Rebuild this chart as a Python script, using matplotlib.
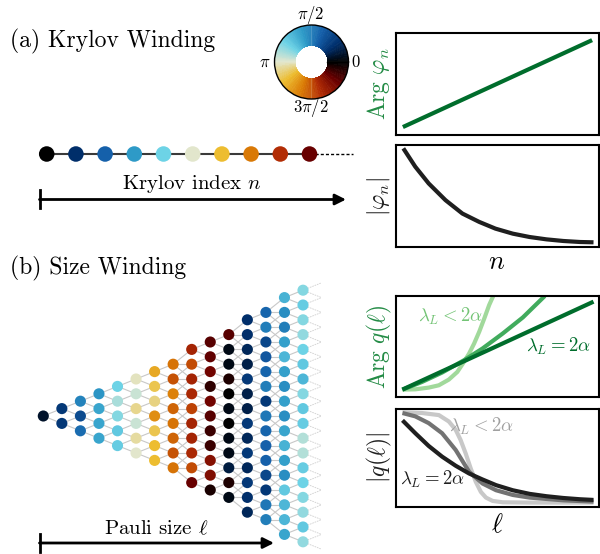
import numpy as np
import matplotlib
matplotlib.use('Agg')
import matplotlib.pyplot as plt
from matplotlib.colors import LinearSegmentedColormap
from matplotlib.collections import LineCollection

plt.rcParams['font.family'] = 'serif'
plt.rcParams['font.serif'] = ['cmr10']
plt.rcParams['mathtext.fontset'] = 'cm'
plt.rcParams['axes.formatter.use_mathtext'] = True

# cyclic phase colours (phase in units of 2*pi)
wheel_colors = ['#000000', '#002f6c', '#1560aa', '#2e9bc8', '#6dd3e6', '#e2e7cf',
                '#edbd30', '#da7b06', '#b22d05', '#6a0000', '#000000']

# (a) Krylov chain phases
chain_phase = [0.0, 0.1, 0.2, 0.3, 0.4, 0.5, 0.6, 0.7, 0.8, 0.9]

# (b) Pauli-size lattice phases, one list per column (top to bottom)
lattice_phase = [
    [0.04],
    [0.12, 0.12],
    [0.26, 0.16, 0.22],
    [0.29, 0.32, 0.32, 0.32],
    [0.40, 0.45, 0.42, 0.38, 0.39],
    [0.51, 0.48, 0.54, 0.48, 0.53, 0.50],
    [0.63, 0.58, 0.55, 0.67, 0.58, 0.60, 0.60],
    [0.71, 0.75, 0.69, 0.73, 0.71, 0.73, 0.75, 0.71],
    [0.82, 0.76, 0.82, 0.81, 0.77, 0.82, 0.82, 0.81, 0.76, 0.90],
    [0.915, 0.91, 0.89, 0.955, 0.89, 0.915, 0.945, 0.945, 0.86, 0.87, 0.975],
    [0.915, 0.02, 0.02, 0.97, 0.0, 0.02, 0.0, 0.02, 0.02, 0.06, 0.97, 0.02],
    [0.10, 0.10, 0.085, 0.07, 0.12, 0.07, 0.07, 0.12, 0.085, 0.12, 0.085, 0.12, 0.10, 0.085],
    [0.21, 0.25, 0.15, 0.18, 0.21, 0.25, 0.12, 0.24, 0.21, 0.20, 0.20, 0.15, 0.12, 0.24, 0.25],
    [0.34, 0.28, 0.25, 0.31, 0.35, 0.31, 0.28, 0.31, 0.28, 0.32, 0.34, 0.31, 0.28, 0.38, 0.35,
     0.35, 0.32],
    [0.42, 0.39, 0.42, 0.43, 0.40, 0.38, 0.35, 0.42, 0.38, 0.39, 0.46, 0.46, 0.39, 0.40, 0.42,
     0.43, 0.38, 0.43],
]

# schematic curves (axes fractions)
arg_phi_x = [0.034, 0.966]
arg_phi_y = [0.078, 0.930]

abs_phi_x = [0.036, 0.095, 0.161, 0.244, 0.327, 0.410, 0.490, 0.575, 0.658, 0.741, 0.824, 0.907, 0.973]
abs_phi_y = [0.967, 0.787, 0.623, 0.459, 0.328, 0.246, 0.180, 0.131, 0.098, 0.075, 0.059, 0.049, 0.046]

argq_lin_x = [0.031, 0.973]
argq_lin_y = [0.073, 0.944]
argq_mid_x = [0.032, 0.128, 0.227, 0.335, 0.426, 0.526, 0.625, 0.733]
argq_mid_y = [0.073, 0.149, 0.242, 0.364, 0.480, 0.629, 0.788, 1.000]
argq_fast_x = [0.032, 0.095, 0.161, 0.211, 0.260, 0.302, 0.335, 0.360, 0.385, 0.410, 0.435,
               0.459, 0.479]
argq_fast_y = [0.073, 0.076, 0.093, 0.116, 0.172, 0.248, 0.348, 0.430, 0.530, 0.646, 0.778,
               0.911, 1.000]

absq_light_x = [0.032, 0.128, 0.211, 0.260, 0.294, 0.318, 0.343, 0.368, 0.393, 0.418, 0.443,
                0.476, 0.526, 0.658, 0.973]
absq_light_y = [0.966, 0.959, 0.938, 0.873, 0.788, 0.685, 0.548, 0.394, 0.257, 0.154, 0.096,
                0.062, 0.048, 0.045, 0.045]
absq_mid_x = [0.032, 0.095, 0.161, 0.227, 0.294, 0.360, 0.426, 0.493, 0.575, 0.658, 0.824, 0.973]
absq_mid_y = [0.959, 0.925, 0.856, 0.753, 0.582, 0.360, 0.240, 0.171, 0.123, 0.096, 0.068, 0.055]
absq_exp_x = [0.032, 0.095, 0.161, 0.227, 0.294, 0.360, 0.426, 0.493, 0.575, 0.658, 0.741,
              0.824, 0.907, 0.973]
absq_exp_y = [0.884, 0.753, 0.623, 0.514, 0.421, 0.342, 0.281, 0.223, 0.171, 0.134, 0.110,
              0.092, 0.079, 0.072]

cmap = LinearSegmentedColormap.from_list('wind', list(zip(np.linspace(0, 1, len(wheel_colors)), wheel_colors)))

fig = plt.figure(figsize=(6, 5.54), dpi=100)
bg = fig.add_axes([0, 0, 1, 1])
bg.set_xlim(0, 600)
bg.set_ylim(554, 0)
bg.axis('off')

# ---- (a) chain ----
chain_x = 46.7 + 29.2 * np.arange(len(chain_phase))
chain_y = np.full(len(chain_phase), 154.0)
bg.plot(chain_x, chain_y, color='#3a3a3a', lw=1.5, zorder=1)
bg.plot([chain_x[-1], 353], [154, 154], color='k', lw=1, ls=(0, (2.2, 1.5)), zorder=1)
bg.scatter(chain_x, chain_y, c=chain_phase, cmap=cmap, vmin=0, vmax=1, s=125,
           linewidths=0, zorder=3)

bg.text(10, 41, '(a) Krylov Winding', fontsize=17, ha='left', va='center')
bg.text(192, 184, r'Krylov index $n$', fontsize=15, ha='center', va='center')
bg.plot([40, 40], [190, 208], 'k', lw=2)
bg.annotate('', xy=(346, 199.5), xytext=(39.5, 199.5),
            arrowprops=dict(arrowstyle='-|>', lw=2, color='k', mutation_scale=16,
                            shrinkA=0, shrinkB=0))

# ---- (b) lattice ----
bg.text(10, 268, '(b) Size Winding', fontsize=17, ha='left', va='center')
col_dx, row_dy, x0, yc = 18.55, 14.8, 43.3, 416.0
pts = []
offs_prev = None
segs = []
for k, col in enumerate(lattice_phase):
    n = len(col)
    offs = np.arange(n) - (n - 1) / 2.0
    x = x0 + k * col_dx
    if offs_prev is not None:
        for a in offs_prev:
            for b in offs:
                if abs(a - b) <= 1.01:
                    segs.append([(x - col_dx, yc + a * row_dy), (x, yc + b * row_dy)])
    for o, p in zip(offs, col):
        pts.append((x, yc + o * row_dy, p))
    offs_prev = offs
bg.add_collection(LineCollection(segs, colors='#c8c8c8', linewidths=0.8, zorder=1))

# faded continuation beyond the last column
xl = x0 + (len(lattice_phase) - 1) * col_dx
fan = []
for a in offs_prev:
    for d in (-0.5, 0.5):
        fan.append([(xl, yc + a * row_dy), (xl + col_dx, yc + (a + d) * row_dy)])
bg.add_collection(LineCollection(fan, colors='#d0d0d0', linewidths=0.6,
                                 linestyles=(0, (2, 1)), zorder=1))

pts = np.array(pts)
bg.scatter(pts[:, 0], pts[:, 1], c=pts[:, 2], cmap=cmap, vmin=0, vmax=1, s=64,
           linewidths=0, zorder=3)

bg.text(156, 529, r'Pauli size $\ell$', fontsize=15, ha='center', va='center')
bg.plot([40, 40], [534, 552], 'k', lw=2)
bg.annotate('', xy=(274, 543), xytext=(39.5, 543),
            arrowprops=dict(arrowstyle='-|>', lw=2, color='k', mutation_scale=16,
                            shrinkA=0, shrinkB=0))

# ---- colour wheel ----
cx, cy, rad = 311.5, 62.0, 37.0
pax = fig.add_axes([(cx - rad) / 600, 1 - (cy + rad) / 554, 2 * rad / 600, 2 * rad / 554],
                   projection='polar')
th = np.linspace(0, 2 * np.pi, 361)
rr = np.array([0.43, 1.0])
cc = ((th[:-1] + th[1:]) / 2 / (2 * np.pi))[None, :]
pax.pcolormesh(th, rr, cc, cmap=cmap, vmin=0, vmax=1, shading='flat', alpha=0.82)
pax.plot([0, 0], [0.43, 1.0], 'k', lw=1)
pax.set_ylim(0, 1)
pax.set_xticks([])
pax.set_yticks([])
pax.grid(False)
pax.spines['polar'].set_linewidth(1)
for s, (tx, ty) in zip([r'$\pi/2$', r'$\pi$', r'$0$', r'$3\pi/2$'],
                       [(311, 15), (265, 62), (356, 62), (311, 108)]):
    bg.text(tx, ty, s, fontsize=12, ha='center', va='center')

# ---- right panels ----
def px_axes(left, top, right, bottom):
    ax = fig.add_axes([left / 600, 1 - bottom / 554, (right - left) / 600, (bottom - top) / 554])
    ax.set_xlim(0, 1)
    ax.set_ylim(0, 1)
    ax.set_xticks([])
    ax.set_yticks([])
    for sp in ax.spines.values():
        sp.set_linewidth(1.5)
    return ax

ax1 = px_axes(396, 33, 599, 135)
ax2 = px_axes(396, 145, 599, 247)
ax3 = px_axes(396, 296, 599, 397)
ax4 = px_axes(396, 409, 599, 507)

kw = dict(lw=3, solid_joinstyle='round', solid_capstyle='butt')
ax1.plot(arg_phi_x, arg_phi_y, color='#006d2c', **kw)
ax2.plot(abs_phi_x, abs_phi_y, color='#1f1f1f', **kw)

ax3.plot(argq_fast_x, argq_fast_y, color='#a1d99b', **kw)
ax3.plot(argq_mid_x, argq_mid_y, color='#41ab5d', **kw)
ax3.plot(argq_lin_x, argq_lin_y, color='#006d2c', **kw)
ax3.text(0.27, 0.80, r'$\lambda_L < 2\alpha$', color='#74c476', fontsize=13.5,
         ha='center', va='center', transform=ax3.transAxes)
ax3.text(0.80, 0.50, r'$\lambda_L = 2\alpha$', color='#006d2c', fontsize=13.5,
         ha='center', va='center', transform=ax3.transAxes)

ax4.plot(absq_light_x, absq_light_y, color='#c8c8c8', **kw)
ax4.plot(absq_mid_x, absq_mid_y, color='#737373', **kw)
ax4.plot(absq_exp_x, absq_exp_y, color='#1f1f1f', **kw)
ax4.text(0.42, 0.82, r'$\lambda_L < 2\alpha$', color='#a0a0a0', fontsize=13.5,
         ha='center', va='center', transform=ax4.transAxes)
ax4.text(0.18, 0.28, r'$\lambda_L = 2\alpha$', color='#1f1f1f', fontsize=13.5,
         ha='center', va='center', transform=ax4.transAxes)

bg.text(379, 84, r'$\mathrm{Arg}\ \varphi_n$', color='#238b45', fontsize=17,
        rotation=90, ha='center', va='center')
bg.text(379, 196, r'$|\varphi_n|$', color='#1f1f1f', fontsize=17,
        rotation=90, ha='center', va='center')
bg.text(379, 347, r'$\mathrm{Arg}\ q(\ell)$', color='#238b45', fontsize=17,
        rotation=90, ha='center', va='center')
bg.text(379, 458, r'$|q(\ell)|$', color='#1f1f1f', fontsize=17,
        rotation=90, ha='center', va='center')
bg.text(497, 262, r'$n$', fontsize=19, ha='center', va='center')
bg.text(497, 525, r'$\ell$', fontsize=19, ha='center', va='center')

fig.savefig('out.png', dpi=100)
